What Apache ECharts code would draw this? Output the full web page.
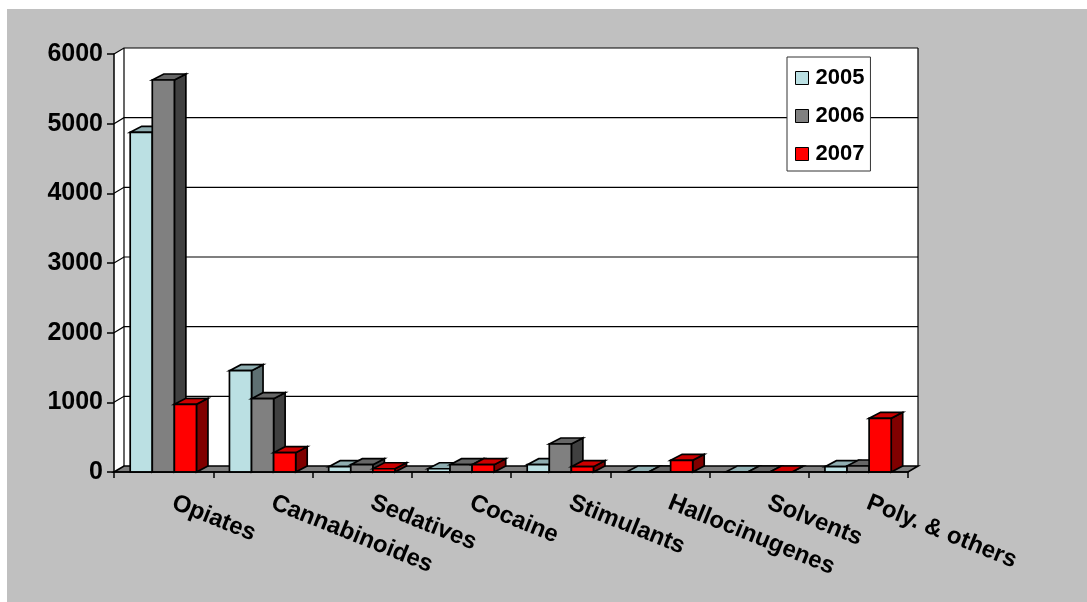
<!DOCTYPE html>
<html>
<head>
<meta charset="utf-8">
<style>html,body{margin:0;padding:0;background:#fff}#c{width:1087px;height:602px}</style>
<script src="https://cdn.jsdelivr.net/npm/echarts@6/dist/echarts.min.js"></script>
</head>
<body>
<div id="c"></div>
<script>
const categories = ['Opiates','Cannabinoides','Sedatives','Cocaine','Stimulants','Hallocinugenes','Solvents','Poly. & others'];
const v2005 = [4876,1454,76,47,105,0,0,76];
const v2006 = [5627,1052,105,105,402,0,0,86];
const v2007 = [972,277,47,105,76,168,0,771];
const yTicks = [0,1000,2000,3000,4000,5000,6000];

const WALL_DX = 10, WALL_DY = 6, BAR_DX = 11.5, BAR_DY = 6;
const LW = 1.7;
const FONT = '"Liberation Sans", Arial, sans-serif';

function poly(points, fill) {
  return {type:'polygon', shape:{points}, style:{fill, stroke:'#000', lineWidth:LW, lineJoin:'miter'}};
}
function barRender(index, front, top, side) {
  return function (params, api) {
    const band = api.size([1,0])[0];
    const w = band * 0.2225;
    const c = api.coord([api.value(0), api.value(1)]);
    const b = api.coord([api.value(0), 0]);
    const x0 = c[0] - w * 1.5 + index * w - 0.3;
    const x1 = x0 + w;
    const y0 = c[1], y1 = b[1];
    return {type:'group', children:[
      poly([[x1,y0],[x1+BAR_DX,y0-BAR_DY],[x1+BAR_DX,y1-BAR_DY],[x1,y1]], side),
      poly([[x0,y0],[x0+BAR_DX,y0-BAR_DY],[x1+BAR_DX,y0-BAR_DY],[x1,y0]], top),
      poly([[x0,y0],[x1,y0],[x1,y1],[x0,y1]], front)
    ]};
  };
}
function wallRender(params, api) {
  const cs = params.coordSys;
  const v = api.value(1);
  const y = api.coord([0, v])[1];
  const L = cs.x, R = cs.x + cs.width;
  const children = [];
  if (v === 0) {
    const yTop = api.coord([0, yTicks[yTicks.length-1]])[1];
    children.push({type:'polygon', shape:{points:[[L,y],[L,yTop],[L+WALL_DX,yTop-WALL_DY],[R+WALL_DX,yTop-WALL_DY],[R+WALL_DX,y-WALL_DY],[R,y]]}, style:{fill:'#fff', stroke:null}});
    children.push({type:'polyline', shape:{points:[[L+WALL_DX,y-WALL_DY],[L+WALL_DX,yTop-WALL_DY]]}, style:{fill:null, stroke:'#000', lineWidth:1.2}});
    children.push({type:'polyline', shape:{points:[[R+WALL_DX,y-WALL_DY],[R+WALL_DX,yTop-WALL_DY]]}, style:{fill:null, stroke:'#000', lineWidth:1.2}});
    children.push(poly([[L,y],[R,y],[R+WALL_DX,y-WALL_DY],[L+WALL_DX,y-WALL_DY]], '#808080'));
  } else {
    children.push({type:'polyline', shape:{points:[[L,y],[L+WALL_DX,y-WALL_DY],[R+WALL_DX,y-WALL_DY]]}, style:{fill:null, stroke:'#000', lineWidth:1.2}});
  }
  return {type:'group', children};
}
function barSeries(name, data, index, front, top, side) {
  return {
    name, type:'custom', coordinateSystem:'cartesian2d', clip:false, z:3,
    data: data.map((v,i)=>[i,v]),
    encode:{x:0,y:1},
    itemStyle:{color:front},
    renderItem: barRender(index, front, top, side)
  };
}

const chart = echarts.init(document.getElementById('c'), null, {renderer:'canvas'});
chart.setOption({
  animation:false,
  backgroundColor:'#fff',
  graphic:[{type:'rect', left:7, top:9, z:-10, shape:{width:1080, height:593}, style:{fill:'#C0C0C0'}}],
  grid:{left:114, top:54, width:794, height:418},
  legend:{
    data:['2005','2006','2007'],
    orient:'vertical', left:787, top:57,
    backgroundColor:'#fff', borderColor:'#333', borderWidth:1,
    padding:[10,6,6,8], itemGap:16, itemWidth:13, itemHeight:13,
    icon:'rect', selectedMode:false, z:20,
    itemStyle:{borderColor:'#000', borderWidth:1},
    textStyle:{fontFamily:FONT, fontWeight:'bold', fontSize:22, color:'#000', lineHeight:22, padding:[0,0,0,2]}
  },
  xAxis:{
    type:'category', data:categories, z:5,
    axisLine:{show:true, onZero:false, lineStyle:{color:'#000', width:1.5}},
    axisTick:{show:true, alignWithLabel:false, length:6, lineStyle:{color:'#000', width:1.5}},
    splitLine:{show:false},
    axisLabel:{
      interval:0, rotate:-22, margin:26, hideOverlap:false, align:'left',
      fontFamily:FONT, fontWeight:'bold', fontSize:24, color:'#000', padding:[0,0,0,10]
    }
  },
  yAxis:{
    type:'value', min:0, max:6000, interval:1000, z:5,
    axisLine:{show:true, lineStyle:{color:'#000', width:1.5}},
    axisTick:{show:true, length:7, lineStyle:{color:'#000', width:1.5}},
    splitLine:{show:false},
    axisLabel:{margin:11, fontFamily:FONT, fontWeight:'bold', fontSize:25, color:'#000', padding:[2,0,0,0], formatter:v=>String(v)}
  },
  series:[
    {type:'custom', coordinateSystem:'cartesian2d', clip:false, z:1, silent:true,
     data:yTicks.map(v=>[0,v]), encode:{x:0,y:1}, renderItem:wallRender},
    barSeries('2005', v2005, 0, '#BBE0E3', '#8FAEB1', '#5E7072'),
    barSeries('2006', v2006, 1, '#808080', '#666666', '#404040'),
    barSeries('2007', v2007, 2, '#FF0000', '#CC0000', '#800000')
  ]
});
</script>
</body>
</html>
